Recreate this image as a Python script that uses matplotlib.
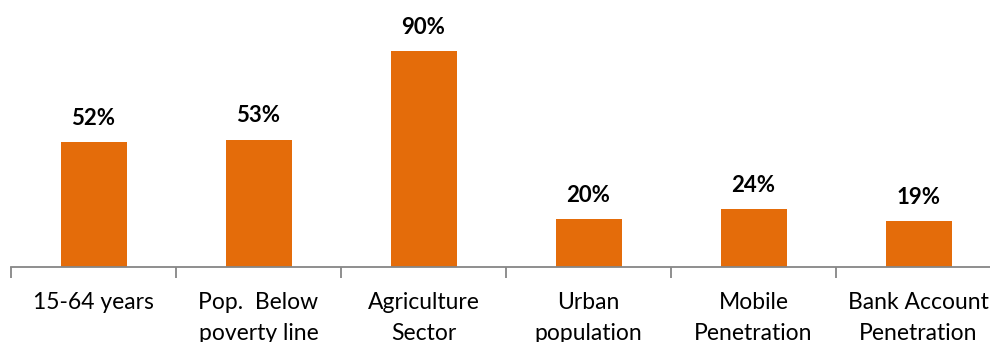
import matplotlib.pyplot as plt
import numpy as np

plt.rcParams['font.family'] = ['Lato', 'DejaVu Sans']

categories = ["15-64 years", "Pop.  Below\npoverty line", "Agriculture\nSector",
              "Urban\npopulation", "Mobile\nPenetration", "Bank Account\nPenetration"]
values = [52, 53, 90, 20, 24, 19]

bar_color = '#E46C0A'
axis_color = '#868686'

fig = plt.figure(figsize=(9.9, 3.42), dpi=100)
ax = fig.add_axes([11 / 990, 75 / 342, 1.0, 240 / 342])

x = np.arange(len(categories))
bars = ax.bar(x, values, width=0.4, color=bar_color, zorder=2)

for xi, v in zip(x, values):
    ax.text(xi, v + 10, f"{v}%", ha='center', va='center', fontsize=16,
            fontweight='bold', clip_on=False)

ax.set_xlim(-0.5, len(categories) - 0.5)
ax.set_ylim(0, 100)

for side in ['top', 'right', 'left']:
    ax.spines[side].set_visible(False)
ax.spines['bottom'].set_color(axis_color)
ax.spines['bottom'].set_linewidth(1.3)
ax.set_yticks([])

# ticks sit between categories; labels under the bars
ax.set_xticks(np.arange(len(categories) + 1) - 0.5)
ax.set_xticklabels([])
ax.tick_params(axis='x', direction='out', length=8, width=1.3, color=axis_color)
for xi, label in zip(x, categories):
    ax.text(xi, -10.5, label, ha='center', va='top', fontsize=16.5,
            linespacing=1.55, clip_on=False)

fig.savefig('out.png', dpi=100)
